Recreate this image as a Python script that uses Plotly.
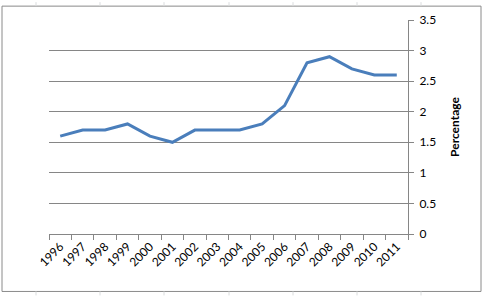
import plotly.graph_objects as go

years = ["1996", "1997", "1998", "1999", "2000", "2001", "2002", "2003",
         "2004", "2005", "2006", "2007", "2008", "2009", "2010", "2011"]
values = [1.6, 1.7, 1.7, 1.8, 1.6, 1.5, 1.7, 1.7, 1.7, 1.8, 2.1, 2.8, 2.9, 2.7, 2.6, 2.6]
y_ticks = [0, 0.5, 1, 1.5, 2, 2.5, 3, 3.5]
y_title = "Percentage"

W, H = 484, 296
L, R, T, B = 49, 76, 18, 62
pw, ph = W - L - R, H - T - B

def px(x):
    return (x - L) / pw

def py(y):
    return 1 - (y - T) / ph

fig = go.Figure()
fig.add_trace(go.Scatter(
    x=years, y=values, mode="lines",
    line=dict(color="#4A7EBB", width=3),
    showlegend=False, hoverinfo="skip"))

shapes = []
# chart area border
shapes.append(dict(type="rect", xref="paper", yref="paper",
                   x0=px(2), x1=px(481), y0=py(292), y1=py(4),
                   line=dict(color="#8a8a8a", width=1), layer="below"))
# faint spreadsheet gridlines outside the chart area
for gx in [36, 100, 164, 229, 293, 357, 421]:
    shapes.append(dict(type="line", xref="paper", yref="paper",
                       x0=px(gx), x1=px(gx), y0=py(0), y1=py(4),
                       line=dict(color="#dadcdd", width=1), layer="below"))
    shapes.append(dict(type="line", xref="paper", yref="paper",
                       x0=px(gx), x1=px(gx), y0=py(292), y1=py(296),
                       line=dict(color="#dadcdd", width=1), layer="below"))

fig.update_layout(
    width=W, height=H,
    margin=dict(l=L, r=R, t=T, b=B, pad=0),
    paper_bgcolor="white", plot_bgcolor="white",
    font=dict(family="Lato", size=12, color="black"),
    shapes=shapes,
    xaxis=dict(
        type="category", tickson="boundaries",
        showline=True, linecolor="#868686", linewidth=1,
        ticks="outside", ticklen=5, tickcolor="#868686",
        tickangle=-45, showgrid=False, zeroline=False,
        tickfont=dict(size=12), range=[-0.5, 15.5]),
    yaxis=dict(
        side="right", range=[0, 3.5], tickvals=y_ticks,
        ticktext=[f"{v:g}" for v in y_ticks],
        showline=True, linecolor="#868686", linewidth=1,
        ticks="outside", ticklen=5, tickcolor="#868686",
        showgrid=True, gridcolor="#868686", gridwidth=1,
        zeroline=False, ticklabelstandoff=3,
        title=dict(text="<b>" + y_title + "</b>",
                   font=dict(size=12, family="Lato"), standoff=15),
        tickfont=dict(size=12)),
)

fig.write_html("out.html")
